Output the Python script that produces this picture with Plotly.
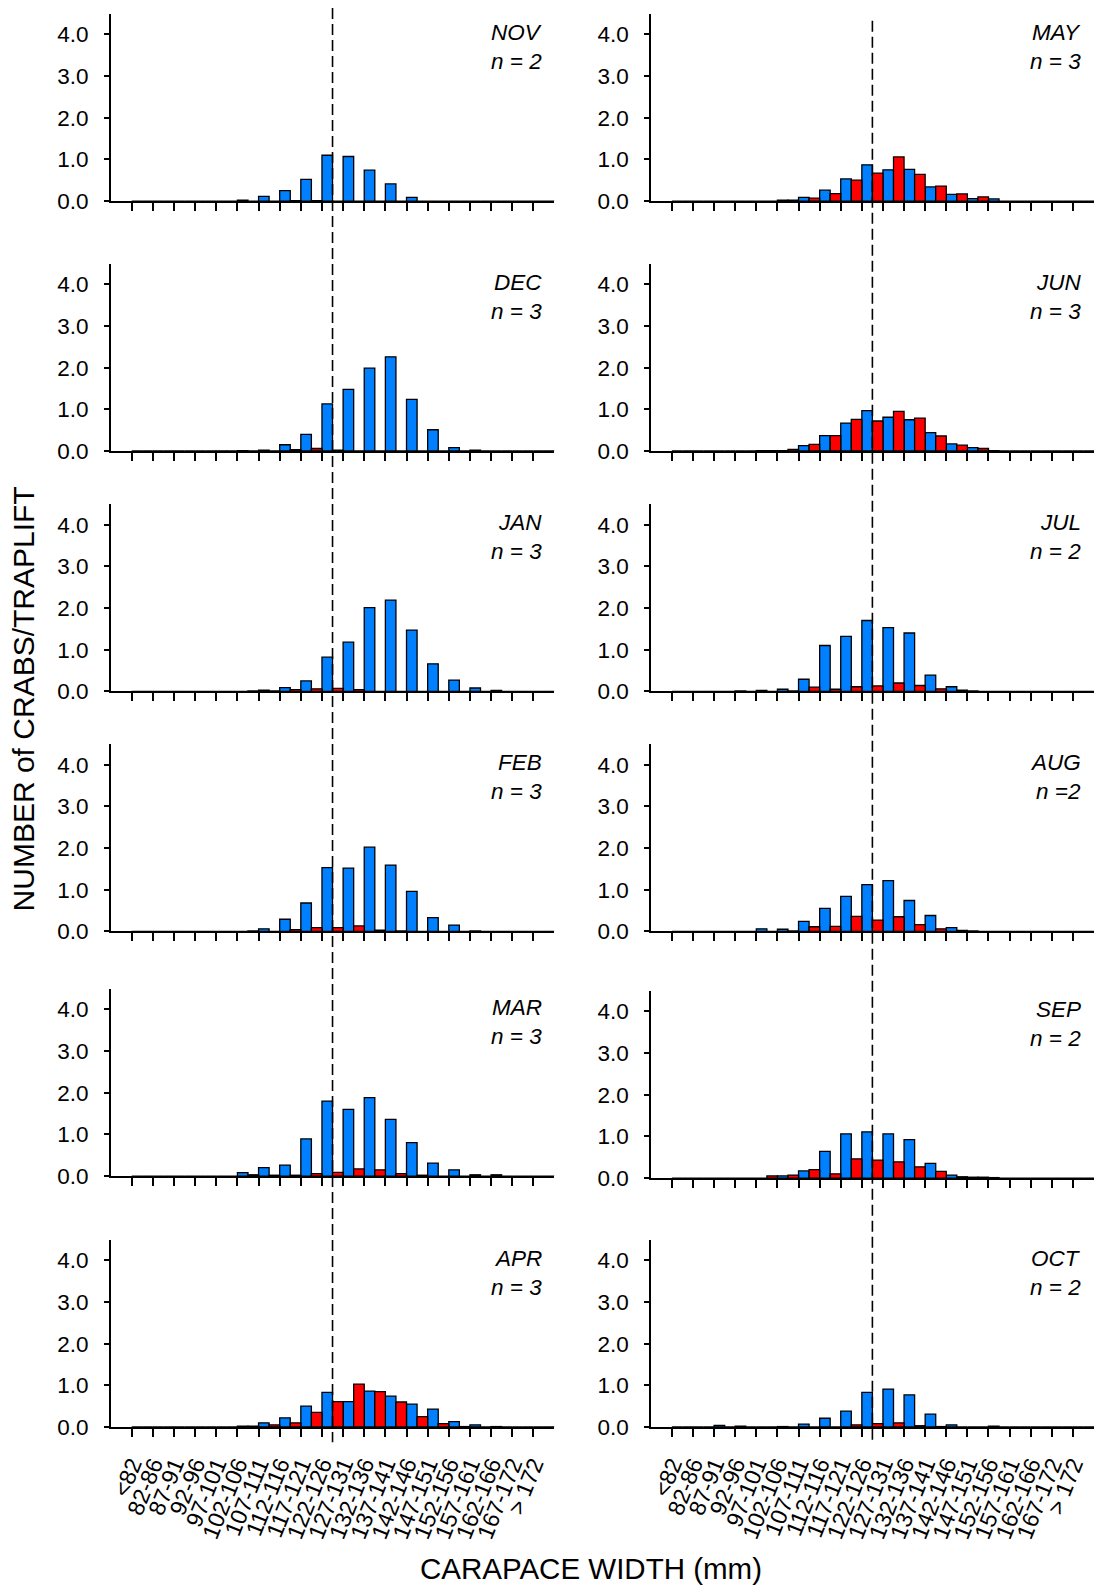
import plotly.graph_objects as go

# Carapace-width size classes (mm)
CATEGORIES = ["<82", "82-86", "87-91", "92-96", "97-101", "102-106", "107-111",
              "112-116", "117-121", "122-126", "127-131", "132-136", "137-141",
              "142-146", "147-151", "152-156", "157-161", "162-166", "167-172", "> 172"]

# Mean crabs per traplift, per month: blue series and red series
NOV_BLUE = [0, 0, 0, 0, 0, 0.02, 0.11, 0.25, 0.52, 1.10, 1.07, 0.74, 0.41, 0.09, 0, 0, 0, 0, 0, 0]
NOV_RED = [0, 0, 0, 0, 0, 0, 0, 0.01, 0.01, 0, 0, 0, 0, 0, 0, 0, 0, 0, 0, 0]
DEC_BLUE = [0, 0, 0, 0, 0.005, 0.01, 0.02, 0.15, 0.40, 1.13, 1.48, 1.99, 2.26, 1.24, 0.51, 0.08, 0.02, 0, 0, 0]
DEC_RED = [0, 0, 0, 0, 0, 0, 0, 0.03, 0.06, 0.02, 0, 0, 0, 0, 0, 0, 0, 0, 0, 0]
JAN_BLUE = [0, 0, 0, 0, 0, 0, 0.03, 0.09, 0.25, 0.82, 1.18, 2.01, 2.19, 1.47, 0.66, 0.27, 0.08, 0.02, 0, 0]
JAN_RED = [0, 0, 0, 0, 0, 0.01, 0.01, 0.04, 0.06, 0.07, 0.04, 0, 0, 0, 0, 0, 0, 0, 0, 0]
FEB_BLUE = [0, 0, 0, 0, 0, 0, 0.06, 0.29, 0.68, 1.53, 1.52, 2.02, 1.59, 0.96, 0.33, 0.15, 0.01, 0, 0, 0]
FEB_RED = [0, 0, 0, 0, 0, 0.01, 0, 0.04, 0.09, 0.09, 0.13, 0.03, 0.01, 0, 0, 0, 0, 0, 0, 0]
MAR_BLUE = [0, 0, 0, 0, 0, 0.08, 0.20, 0.26, 0.89, 1.80, 1.60, 1.88, 1.36, 0.80, 0.31, 0.15, 0.03, 0.03, 0, 0]
MAR_RED = [0, 0, 0, 0, 0, 0.03, 0.02, 0.02, 0.06, 0.09, 0.17, 0.15, 0.06, 0.02, 0, 0, 0, 0, 0, 0]
APR_BLUE = [0, 0, 0, 0, 0, 0.02, 0.10, 0.22, 0.50, 0.83, 0.61, 0.86, 0.74, 0.55, 0.43, 0.13, 0.05, 0.01, 0, 0]
APR_RED = [0, 0, 0, 0, 0, 0.02, 0.05, 0.10, 0.35, 0.61, 1.03, 0.85, 0.60, 0.25, 0.08, 0.01, 0, 0, 0, 0]
MAY_BLUE = [0, 0, 0, 0, 0, 0.02, 0.09, 0.26, 0.53, 0.87, 0.75, 0.76, 0.34, 0.16, 0.06, 0.05, 0, 0, 0, 0]
MAY_RED = [0, 0, 0, 0, 0, 0.02, 0.07, 0.18, 0.50, 0.67, 1.06, 0.64, 0.36, 0.17, 0.10, 0, 0, 0, 0, 0]
JUN_BLUE = [0, 0, 0, 0, 0.01, 0.01, 0.13, 0.37, 0.67, 0.97, 0.81, 0.75, 0.44, 0.17, 0.08, 0.01, 0, 0, 0, 0]
JUN_RED = [0, 0, 0, 0, 0.01, 0.04, 0.16, 0.37, 0.76, 0.72, 0.95, 0.79, 0.36, 0.14, 0.06, 0, 0, 0, 0, 0]
JUL_BLUE = [0, 0, 0, 0.01, 0.02, 0.05, 0.29, 1.10, 1.32, 1.70, 1.53, 1.40, 0.39, 0.11, 0.01, 0, 0, 0, 0, 0]
JUL_RED = [0, 0, 0, 0, 0, 0.01, 0.10, 0.05, 0.11, 0.13, 0.20, 0.14, 0.06, 0.03, 0, 0, 0, 0, 0, 0]
AUG_BLUE = [0, 0, 0, 0, 0.06, 0.05, 0.24, 0.55, 0.84, 1.12, 1.22, 0.74, 0.38, 0.09, 0.01, 0, 0, 0, 0, 0]
AUG_RED = [0, 0, 0, 0, 0, 0.01, 0.11, 0.12, 0.36, 0.27, 0.35, 0.16, 0.06, 0.02, 0, 0, 0, 0, 0, 0]
SEP_BLUE = [0, 0, 0, 0, 0, 0.05, 0.17, 0.64, 1.06, 1.11, 1.06, 0.92, 0.35, 0.07, 0.02, 0.01, 0, 0, 0, 0]
SEP_RED = [0, 0, 0, 0, 0.05, 0.07, 0.20, 0.10, 0.46, 0.43, 0.39, 0.27, 0.16, 0.03, 0.02, 0, 0, 0, 0, 0]
OCT_BLUE = [0, 0, 0.04, 0.02, 0, 0.01, 0.07, 0.21, 0.38, 0.83, 0.91, 0.77, 0.31, 0.05, 0, 0.02, 0, 0, 0, 0]
OCT_RED = [0, 0, 0, 0, 0, 0, 0, 0, 0.05, 0.08, 0.10, 0.03, 0.01, 0, 0, 0, 0, 0, 0, 0]

MONTHS = ["NOV", "DEC", "JAN", "FEB", "MAR", "APR", "MAY", "JUN", "JUL", "AUG", "SEP", "OCT"]
N_LABELS = ["n = 2", "n = 3", "n = 3", "n = 3", "n = 3", "n = 3",
            "n = 3", "n = 3", "n = 2", "n =2", "n = 2", "n = 2"]
BLUE = [NOV_BLUE, DEC_BLUE, JAN_BLUE, FEB_BLUE, MAR_BLUE, APR_BLUE,
        MAY_BLUE, JUN_BLUE, JUL_BLUE, AUG_BLUE, SEP_BLUE, OCT_BLUE]
RED = [NOV_RED, DEC_RED, JAN_RED, FEB_RED, MAR_RED, APR_RED,
       MAY_RED, JUN_RED, JUL_RED, AUG_RED, SEP_RED, OCT_RED]

Y_TICKS = [0, 1, 2, 3, 4]
DIVIDER = 9.5  # reference class boundary drawn as the dashed line

W, H = 1094, 1596
FONT = "Liberation Sans, Arial, sans-serif"
BLUE_COLOR = "#0080ff"
RED_COLOR = "#ff0000"

# panel geometry in pixels
COL_X = [(108.3, 553.0), (650.0, 1094.0)]
BASELINES = [[202.7, 454.7, 697.0, 939.0, 1185.7, 1438.7],
             [202.7, 454.7, 697.0, 939.0, 1187.7, 1438.7]]
PANEL_H = 189.0
X_RANGE = [-0.98, 20.0]
Y_RANGE = [0, 4.5]

fig = go.Figure()
layout = dict(
    width=W, height=H, margin=dict(l=0, r=0, t=0, b=0),
    paper_bgcolor="white", plot_bgcolor="white", showlegend=False,
    barmode="overlay", font=dict(family=FONT, size=22, color="black"),
)
annotations = []
shapes = []
idx = list(range(len(CATEGORIES)))

for p in range(12):
    col, row = divmod(p, 6)
    k = p + 1
    xa = "x" if k == 1 else f"x{k}"
    ya = "y" if k == 1 else f"y{k}"
    x0, x1 = COL_X[col]
    base = BASELINES[col][row]
    dom_y = [(H - base) / H, (H - base + PANEL_H) / H]
    dom_x = [x0 / W, min(x1 / W, 1.0)]
    bottom = row == 5

    fig.add_trace(go.Bar(
        x=[i + 0.25 for i in idx], y=BLUE[p], width=0.5, xaxis=xa, yaxis=ya,
        marker=dict(color=BLUE_COLOR, line=dict(color="black", width=1.3)),
    ))
    fig.add_trace(go.Bar(
        x=[i + 0.75 for i in idx], y=RED[p], width=0.5, xaxis=xa, yaxis=ya,
        marker=dict(color=RED_COLOR, line=dict(color="black", width=1.3)),
    ))

    layout["xaxis" if k == 1 else f"xaxis{k}"] = dict(
        domain=dom_x, anchor=ya, range=X_RANGE, showgrid=False, zeroline=False,
        showline=True, linecolor="black", linewidth=2,
        ticks="outside", ticklen=8, tickwidth=1.5, tickcolor="black",
        tickvals=idx, ticktext=CATEGORIES, showticklabels=bottom,
        tickangle=-68, ticklabelstandoff=5,
        tickfont=dict(family=FONT, size=23, color="black"),
    )
    layout["yaxis" if k == 1 else f"yaxis{k}"] = dict(
        domain=dom_y, anchor=xa, range=Y_RANGE, showgrid=False, zeroline=False,
        showline=True, linecolor="black", linewidth=2,
        ticks="outside", ticklen=5, tickwidth=1.5, tickcolor="black",
        tickvals=Y_TICKS, tickformat=".1f", ticklabelstandoff=11,
        tickfont=dict(family=FONT, size=22.5, color="black"),
    )

    annotations.append(dict(
        x=19.5, y=4.05, xref=xa, yref=ya, text=f"<i>{MONTHS[p]}</i>",
        showarrow=False, xanchor="right", yanchor="middle",
        font=dict(family=FONT, size=22.5, color="black"),
    ))
    annotations.append(dict(
        x=19.5, y=3.35, xref=xa, yref=ya, text=f"<i>{N_LABELS[p]}</i>",
        showarrow=False, xanchor="right", yanchor="middle",
        font=dict(family=FONT, size=22.5, color="black"),
    ))

# dashed reference line running through each column of panels
for col, (top_px, bot_px) in enumerate([(8, 1454), (21, 1454)]):
    xa = "x" if col == 0 else "x7"
    shapes.append(dict(
        type="line", xref=xa, yref="paper", x0=DIVIDER, x1=DIVIDER,
        y0=(H - top_px) / H, y1=(H - bot_px) / H,
        line=dict(color="black", width=1.6, dash="11px,5px"), layer="above",
    ))

annotations.append(dict(
    x=589.4 / W, y=(H - 1581) / H, xref="paper", yref="paper",
    text="CARAPACE WIDTH (mm)", showarrow=False, xanchor="center", yanchor="middle",
    font=dict(family=FONT, size=29.5, color="black"),
))
annotations.append(dict(
    x=20.4 / W, y=(H - 704.8) / H, xref="paper", yref="paper",
    text="NUMBER of CRABS/TRAPLIFT", textangle=-90, showarrow=False,
    xanchor="center", yanchor="middle",
    font=dict(family=FONT, size=30, color="black"),
))

layout["annotations"] = annotations
layout["shapes"] = shapes
fig.update_layout(**layout)
fig.write_html("out.html")
